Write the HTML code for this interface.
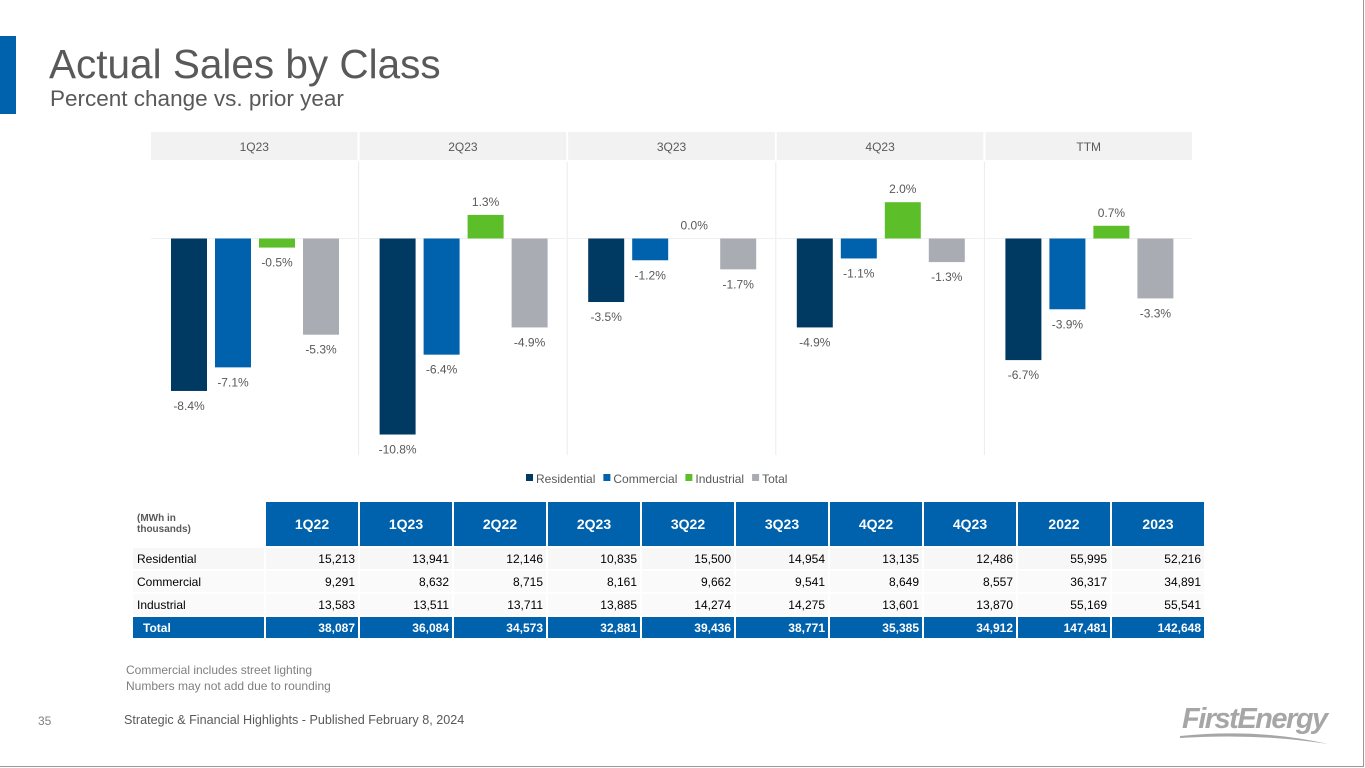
<!DOCTYPE html>
<html><head><meta charset="utf-8"><style>
body{margin:0;width:1365px;height:768px;overflow:hidden;background:#fff;font-family:"Liberation Sans",sans-serif;position:relative}
.abs{position:absolute}
table{border-collapse:separate;border-spacing:2px 2px}
</style></head><body>
<div class="abs" style="left:0;top:0;width:1363px;height:766px;border-right:1px solid #999;border-bottom:1px solid #999"></div>
<div class="abs" style="left:0;top:36px;width:16px;height:78px;background:#0061ad"></div>
<div class="abs" style="left:49px;top:41px;font-size:40.5px;color:#595959">Actual Sales by Class</div>
<div class="abs" style="left:50px;top:86px;font-size:22.5px;color:#595959">Percent change vs. prior year</div>

<svg class="abs" style="left:0;top:0" width="1365" height="500">
<g id="g"></g>
</svg>
<script>
const periods=["1Q23","2Q23","3Q23","4Q23","TTM"];
const residential=[-8.4,-10.8,-3.5,-4.9,-6.7];
const commercial=[-7.1,-6.4,-1.2,-1.1,-3.9];
const industrial=[-0.5,1.3,0.0,2.0,0.7];
const total=[-5.3,-4.9,-1.7,-1.3,-3.3];
const seriesNames=["Residential","Commercial","Industrial","Total"];
const colors=["#003a63","#0061ad","#5cbf2a","#a9acb3"];
const series=[residential,commercial,industrial,total];
const NS="http://www.w3.org/2000/svg";
const g=document.getElementById('g');
const x0=150,pw=208.6,y0=238.5,k=18.15;
function y(v){return y0-v*k;}
function mk(t,a){const e=document.createElementNS(NS,t);for(const q in a)e.setAttribute(q,a[q]);g.appendChild(e);return e;}
periods.forEach((p,i)=>{
  const px=x0+i*pw;
  const h=mk('rect',{x:px+1,y:132,width:pw-2,height:28,fill:'#f2f2f2'});
  
  
  const ht=mk('text',{x:px+pw/2,y:151,'text-anchor':'middle','font-size':12,fill:'#595959'});ht.textContent=p;
  
  
  if(i>0){const s=mk('line',{x1:px,x2:px,y1:162,y2:455,stroke:'#ebebeb'});
  
  }
  const z=mk('line',{x1:px+1,x2:px+pw-1,y1:y0,y2:y0,stroke:'#f0f0f0'});
  
  
  series.forEach((arr,j)=>{
    const v=arr[i],bx=px+21+j*44,bw=36;
    const top=Math.min(y(v),y0),hh=Math.abs(y(v)-y0);
    const r=mk('rect',{x:bx,y:top,width:bw,height:hh,fill:colors[j]});
    
    
    const ly=v<0?y(v)+19:y(v)-9;
    const t=mk('text',{x:bx+bw/2,y:ly,'text-anchor':'middle','font-size':12,fill:'#595959'});
    t.textContent=v.toFixed(1)+'%';
    
    
  });
});
let lx=526;
seriesNames.forEach((n,j)=>{
  const s=mk('rect',{x:lx,y:474,width:7,height:7,fill:colors[j]});
  
  
  const t=mk('text',{x:lx+10,y:483,'font-size':12,fill:'#595959'});t.textContent=n;
  
  
  lx+=10+t.getComputedTextLength()+8;
});
</script>

<table class="abs" style="left:131px;top:500px;font-size:12px;color:#000">
<colgroup><col style="width:131px"><col span="10" style="width:92px"></colgroup>
<tr style="height:44px">
<td style="font-size:10px;font-weight:bold;color:#595959;vertical-align:middle;padding-left:4px">(MWh in<br>thousands)</td>
<td style="background:#0061ad;color:#fff;font-weight:bold;font-size:14px;text-align:center">1Q22</td>
<td style="background:#0061ad;color:#fff;font-weight:bold;font-size:14px;text-align:center">1Q23</td>
<td style="background:#0061ad;color:#fff;font-weight:bold;font-size:14px;text-align:center">2Q22</td>
<td style="background:#0061ad;color:#fff;font-weight:bold;font-size:14px;text-align:center">2Q23</td>
<td style="background:#0061ad;color:#fff;font-weight:bold;font-size:14px;text-align:center">3Q22</td>
<td style="background:#0061ad;color:#fff;font-weight:bold;font-size:14px;text-align:center">3Q23</td>
<td style="background:#0061ad;color:#fff;font-weight:bold;font-size:14px;text-align:center">4Q22</td>
<td style="background:#0061ad;color:#fff;font-weight:bold;font-size:14px;text-align:center">4Q23</td>
<td style="background:#0061ad;color:#fff;font-weight:bold;font-size:14px;text-align:center">2022</td>
<td style="background:#0061ad;color:#fff;font-weight:bold;font-size:14px;text-align:center">2023</td>
</tr>
<tbody id="tb"></tbody>
</table>
<script>
const rows=[["Residential",["15,213","13,941","12,146","10,835","15,500","14,954","13,135","12,486","55,995","52,216"]],
["Commercial",["9,291","8,632","8,715","8,161","9,662","9,541","8,649","8,557","36,317","34,891"]],
["Industrial",["13,583","13,511","13,711","13,885","14,274","14,275","13,601","13,870","55,169","55,541"]],
["Total",["38,087","36,084","34,573","32,881","39,436","38,771","35,385","34,912","147,481","142,648"]]];
const tb=document.getElementById('tb');
rows.forEach((r,i)=>{
  const tr=document.createElement('tr');tr.style.height='21px';
  
  
  const tot=r[0]==="Total";
  const bg=tot?'#0061ad':(i==0?'#f7f7f7':'#fafafa');
  let h='<td style="background:'+bg+';padding-left:'+(tot?10:4)+'px;'+(tot?'color:#fff;font-weight:bold':'')+'">'+r[0]+'</td>';
  r[1].forEach(v=>{h+='<td style="background:'+bg+';text-align:right;padding-right:3px;'+(tot?'color:#fff;font-weight:bold':'')+'">'+v+'</td>';});
  tr.innerHTML=h;tb.appendChild(tr);
});
</script>
<div class="abs" style="left:126px;top:662px;font-size:12px;color:#7f7f7f;line-height:16px">Commercial includes street lighting<br>Numbers may not add due to rounding</div>
<div class="abs" style="left:38px;top:714px;font-size:12px;color:#7f7f7f">35</div>
<div class="abs" style="left:124px;top:713px;font-size:12.6px;color:#595959">Strategic &amp; Financial Highlights - Published February 8, 2024</div>
<div class="abs" style="left:1182px;top:703px;font-size:29px;font-weight:bold;font-style:italic;color:#a6a6a6;letter-spacing:-1.5px">FirstEnergy</div>
<svg class="abs" style="left:1178px;top:728px" width="160" height="22"><path d="M2 8 Q80 0 150 16 Q80 5 2 10Z" fill="#a6a6a6"/></svg>
</body></html>
